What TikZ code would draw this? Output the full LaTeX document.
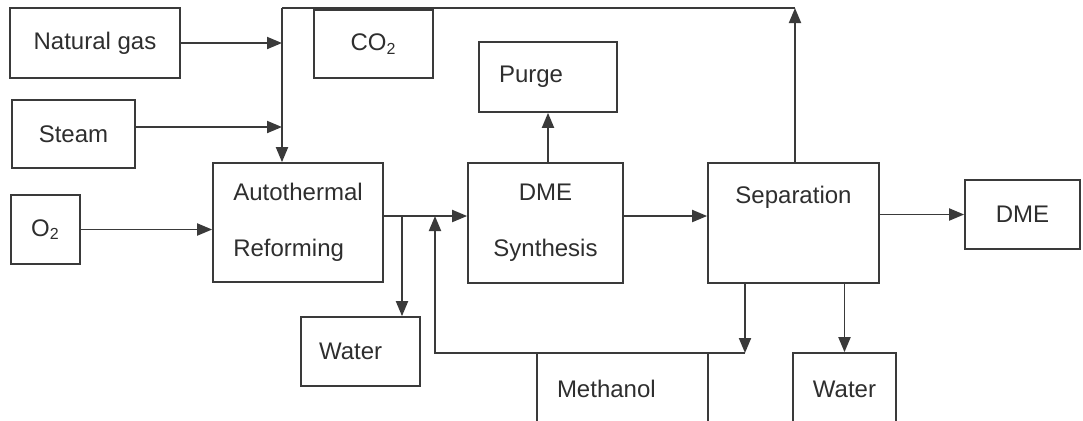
\documentclass[tikz,border=0pt]{standalone}
\usepackage{fontspec}
\setmainfont{Liberation Sans}
\usetikzlibrary{arrows.meta}
\definecolor{FlowGray}{HTML}{3A3A3A}
\definecolor{LabelGray}{HTML}{2E2E2E}

\begin{document}
\begin{tikzpicture}[x=0.5pt,y=-0.5pt,
    every node/.style={font=\fontsize{12}{28}\selectfont, text=LabelGray},
    unit/.style={draw=FlowGray, line width=0.85pt, rectangle, inner sep=0pt, align=center},
    pipe/.style={draw=FlowGray, line width=0.95pt},
    stream/.style={pipe, -{Triangle[length=7.5pt,width=6pt]}}]
      \useasboundingbox (0,0) rectangle (1083,420);

      \node[unit, minimum width=85pt, minimum height=35pt] (gas) at (95,43) {Natural gas};
      \node[unit, minimum width=59.5pt, minimum height=34pt] (co2) at (373.5,44) {CO\textsubscript{2}};
      \node[unit, minimum width=61.5pt, minimum height=34pt] (steam) at (73.5,134) {Steam};
      \node[unit, minimum width=34.5pt, minimum height=34.5pt] (o2) at (45.5,229.5) {O\textsubscript{2}};
      \node[unit, minimum width=85pt, minimum height=59.5pt, align=left] (atr) at (298,222.5) {Autothermal\\Reforming};
      \node[unit, minimum width=77.5pt, minimum height=60pt] (syn) at (545.5,223) {DME\\Synthesis};
      \node[unit, minimum width=69pt, minimum height=35pt, inner xsep=10pt, text width=49pt, align=left] (purge) at (548,77) {Purge};
      \node[unit, minimum width=85.5pt, minimum height=60pt] (sep) at (793.5,223) {Separation\\\mbox{}};
      \node[unit, minimum width=57.5pt, minimum height=34.5pt] (dme) at (1022.5,214.5) {DME};
      \node[unit, minimum width=59.5pt, minimum height=34.5pt, inner xsep=9pt, text width=41.5pt, align=left] (water1) at (360.5,351.5) {Water};
      \node[unit, minimum width=85.5pt, minimum height=36pt, inner xsep=10pt, text width=65.5pt, align=left] (meoh) at (622.5,389) {Methanol};
      \node[unit, minimum width=51.5pt, minimum height=36pt] (water2) at (844.5,389) {Water};

      \coordinate (mix) at (282,8);
      \coordinate (loop) at (795,8);
      \coordinate (wsplit) at (402,216);
      \coordinate (rsplit) at (435,216);
      \coordinate (rcorner) at (435,353);
      \coordinate (mdrop) at (745,353);

      % feeds to the reformer
      \draw[stream] (gas.east) -- (gas.east -| mix);
      \draw[stream] ([yshift=3.5pt]steam.east) -- ([yshift=3.5pt]steam.east -| mix);
      \draw[stream] (o2.east) -- (o2.east -| atr.west);
      \draw[stream] (mix) -- (mix |- atr.north);

      % CO2 recycle
      \draw[stream] (sep.north -| loop) -- (loop);
      \draw[pipe] (loop) -- (mix);

      \draw[stream] (atr.east |- rsplit) -- (syn.west |- rsplit);
      \draw[stream] (wsplit) -- (wsplit |- water1.north);
      \draw[stream] (purge.south |- syn.north) -- (purge.south);
      \draw[stream] (syn.east |- rsplit) -- (sep.west |- rsplit);
      \draw[stream] (sep.east |- dme.west) -- (dme.west);

      % methanol recycle and water
      \draw[stream] (sep.south -| mdrop) -- (mdrop);
      \draw[stream] (mdrop) -- (rcorner) -- (rsplit);
      \draw[stream] (sep.south -| water2) -- (water2.north);
    \end{tikzpicture}
\end{document}
